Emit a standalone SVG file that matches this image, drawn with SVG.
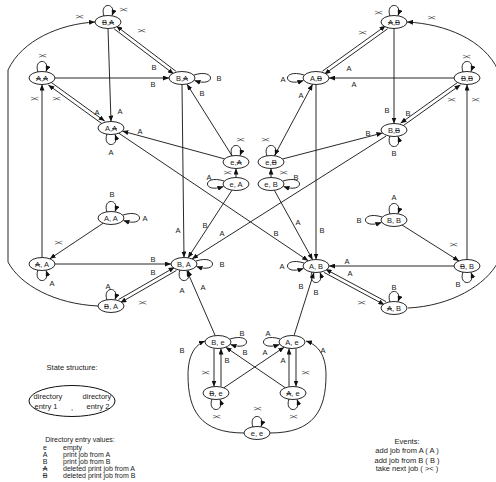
<svg xmlns="http://www.w3.org/2000/svg" width="496" height="482" viewBox="0 0 496 482">
  <style>
    text { font-family: "Liberation Sans", Arial, sans-serif; fill: #1a1a1a; }
    .st ellipse { fill: #fff; stroke: #111; stroke-width: 0.9; }
    .st text { font-size: 7.5px; text-anchor: middle; }
    .d { text-decoration: line-through; }
    .e { fill: none; stroke: #111; stroke-width: 0.9; marker-end: url(#arr); }
    .lb { font-size: 7.5px; text-anchor: middle; }
    .tk { font-size: 8px; text-anchor: middle; letter-spacing: -1.2px; fill: #333; }
    .leg { font-size: 7px; }
    .ev { font-size: 7.5px; }
    .big { font-size: 7.5px; }
    .mid { text-anchor: middle; }
  </style>
  <defs>
    <marker id="arr" markerWidth="6" markerHeight="5" refX="6" refY="2.5" orient="auto" markerUnits="userSpaceOnUse">
      <path d="M0,0 L6,2.5 L0,5 z" fill="#111"/>
    </marker>
  </defs>
  <rect width="496" height="482" fill="#fff"/>

  <g id="connectors">
    <!-- outer arcs -->
    <path class="e" d="M 98 306 C 55 304, 20 285, 8 262 L 8 70 C 22 40, 60 24, 95 22"/>
    <path class="e" d="M 408 308 C 451 306, 486 285, 498 262 L 498 70 C 484 40, 446 24, 407 22"/>
    <text class="tk" x="79" y="19">&gt;&lt;</text>
    <text class="tk" x="431" y="20">&gt;&lt;</text>

    <!-- upper left group -->
    <path class="e" d="M 175.9 71.2 L 116.3 26.0"/>
    <path class="e" d="M 114.1 28.8 L 173.7 74.0"/>
    <text class="tk" x="141" y="33">&gt;&lt;</text>
    <text class="lb" x="154" y="70">B</text>
    <path class="e" d="M 108 28.5 L 111 121.5"/>
    <text class="lb" x="120" y="114">A</text>
    <path class="e" d="M 55 78 L 169 78"/>
    <text class="lb" x="153" y="87">B</text>
    <path class="e" d="M 50.5 81.9 L 104.7 121.1"/>
    <path class="e" d="M 102.5 124.1 L 48.3 84.9"/>
    <text class="tk" x="56" y="101">&gt;&lt;</text>
    <text class="lb" x="97" y="115">A</text>
    <path class="e" d="M 224.6 158.9 L 122.4 131.1"/>
    <text class="lb" x="140" y="134">A</text>
    <path class="e" d="M 232 155.8 L 187 84.2"/>
    <text class="lb" x="202" y="96">B</text>
    <path class="e" d="M 236 177.5 L 236 168.5"/>
    <text class="tk" x="227" y="175">&gt;&lt;</text>
    <path class="e" d="M 232 190.2 L 188 257.8"/>
    <text class="lb" x="205" y="228">B</text>
    <path class="e" d="M 182 84.5 L 184 257.5"/>
    <text class="lb" x="178" y="233">A</text>
    <path class="e" d="M 118.8 133.2 L 308.2 260.8"/>
    <text class="lb" x="276" y="236">B</text>
    <path class="e" d="M 386 136.1 L 192 258.9"/>
    <text class="lb" x="222" y="236">A</text>

    <!-- upper right group -->
    <path class="e" d="M 322.4 71.2 L 385.6 25.8"/>
    <path class="e" d="M 387.6 28.8 L 324.4 74.2"/>
    <text class="tk" x="362" y="35">&gt;&lt;</text>
    <text class="lb" x="349" y="71">A</text>
    <path class="e" d="M 394 28.5 L 394 123.5"/>
    <text class="lb" x="387" y="113">B</text>
    <path class="e" d="M 454 78 L 329 78"/>
    <text class="lb" x="354" y="87">A</text>
    <path class="e" d="M 458.5 81.8 L 400.5 123.2"/>
    <path class="e" d="M 402.5 126.2 L 460.5 84.8"/>
    <text class="lb" x="408" y="116">B</text>
    <text class="tk" x="451" y="102">&gt;&lt;</text>
    <path class="e" d="M 274.4 155.7 L 312.6 84.3"/>
    <text class="lb" x="301" y="98">A</text>
    <path class="e" d="M 282.5 159 L 382.5 133"/>
    <text class="lb" x="368" y="136">B</text>
    <path class="e" d="M 271 177.5 L 271 168.5"/>
    <text class="tk" x="283" y="175">&gt;&lt;</text>
    <path class="e" d="M 274.4 190.3 L 312.6 259.7"/>
    <text class="lb" x="298" y="225">A</text>
    <path class="e" d="M 316 84.5 L 316 259.5"/>
    <text class="lb" x="322" y="233">B</text>

    <!-- lower left group -->
    <path class="e" d="M 103.2 223.2 L 49.8 258.8"/>
    <text class="tk" x="58" y="245">&gt;&lt;</text>
    <path class="e" d="M 42 257.5 L 42 84.5"/>
    <text class="tk" x="34" y="101">&gt;&lt;</text>
    <path class="e" d="M 55 264 L 171 264"/>
    <text class="lb" x="153" y="262">B</text>
    <path class="e" d="M 118.6 299.5 L 174.6 267.3"/>
    <path class="e" d="M 176.4 270.5 L 120.4 302.7"/>
    <text class="lb" x="153" y="275">B</text>
    <text class="tk" x="142" y="305">&gt;&lt;</text>

    <!-- lower right group -->
    <path class="e" d="M 402 225 L 459 261"/>
    <text class="tk" x="453" y="247">&gt;&lt;</text>
    <path class="e" d="M 467 259.5 L 467 84.5"/>
    <text class="tk" x="475" y="102">&gt;&lt;</text>
    <path class="e" d="M 454 266 L 329 266"/>
    <text class="lb" x="347" y="264">A</text>
    <path class="e" d="M 386 301.6 L 325.6 269.2"/>
    <path class="e" d="M 324 272.4 L 384.4 304.8"/>
    <text class="lb" x="350" y="276">A</text>
    <text class="tk" x="361" y="305">&gt;&lt;</text>

    <!-- bottom group -->
    <path class="e" d="M 215.2 335.6 L 186.8 270.4"/>
    <text class="lb" x="203" y="290">A</text>
    <path class="e" d="M 294 335.6 L 314 272.4"/>
    <text class="lb" x="301" y="289">B</text>
    <path class="e" d="M 214 348.5 L 214 386.5"/>
    <text class="tk" x="205" y="375">&gt;&lt;</text>
    <path class="e" d="M 221 386.5 L 221 348.5"/>
    <text class="lb" x="227" y="363">B</text>
    <path class="e" d="M 296 348.5 L 296 386.5"/>
    <text class="tk" x="305" y="375">&gt;&lt;</text>
    <path class="e" d="M 289 386.5 L 289 348.5"/>
    <text class="lb" x="283" y="363">A</text>
    <path class="e" d="M 223.8 387.8 L 284.2 347.2"/>
    <text class="lb" x="265" y="355">A</text>
    <path class="e" d="M 285.3 387.8 L 225.7 347.2"/>
    <text class="lb" x="245" y="355">B</text>
    <path class="e" d="M 244 433 C 200 433, 188 410, 188 375 C 188 355, 195 345, 205 341"/>
    <text class="lb" x="182" y="353">B</text>
    <path class="e" d="M 270 433 C 314 433, 326 410, 326 375 C 326 355, 318 345, 306 341"/>
    <text class="lb" x="323" y="353">A</text>

    <!-- self loops -->
    <path class="e" d="M 104 16 C 99 2, 117 2, 112 15.6"/>
    <text class="tk" x="123" y="12">&gt;&lt;</text>
    <path class="e" d="M 38 72 C 33 58, 51 58, 46 71.6"/>
    <text class="tk" x="42" y="58">&gt;&lt;</text>
    <path class="e" d="M 194 75 C 216 68, 216 88, 194.5 80.5"/>
    <text class="lb" x="219" y="81">B</text>
    <path class="e" d="M 107 134 C 102 148, 120 148, 115 134.4"/>
    <text class="lb" x="111" y="155">A</text>
    <path class="e" d="M 232 156 C 227 142, 245 142, 240 155.6"/>
    <text class="tk" x="240" y="142">&gt;&lt;</text>
    <path class="e" d="M 224 181 C 202 174, 202 194, 223.5 186.5"/>
    <text class="lb" x="209" y="180">A</text>
    <path class="e" d="M 107 212 C 102 198, 120 198, 115 211.6"/>
    <text class="lb" x="112" y="197">B</text>
    <path class="e" d="M 123 215 C 145 208, 145 228, 123.5 220.5"/>
    <text class="lb" x="145" y="221">A</text>
    <path class="e" d="M 38 270 C 33 284, 51 284, 46 270.4"/>
    <text class="lb" x="52" y="286">A</text>
    <path class="e" d="M 196 261 C 218 254, 218 274, 196.5 266.5"/>
    <text class="lb" x="222" y="267">B</text>
    <path class="e" d="M 180 270 C 175 284, 193 284, 188 270.4"/>
    <text class="lb" x="182" y="293">A</text>
    <path class="e" d="M 107 300 C 102 286, 120 286, 115 299.6"/>
    <text class="lb" x="108" y="289">A</text>
    <path class="e" d="M 390 16 C 385 2, 403 2, 398 15.6"/>
    <text class="tk" x="378" y="15">&gt;&lt;</text>
    <path class="e" d="M 304 75 C 282 68, 282 88, 303.5 80.5"/>
    <text class="lb" x="283" y="82">A</text>
    <path class="e" d="M 463 72 C 458 58, 476 58, 471 71.6"/>
    <text class="tk" x="466" y="59">&gt;&lt;</text>
    <path class="e" d="M 390 136 C 385 150, 403 150, 398 136.4"/>
    <text class="lb" x="394" y="156">B</text>
    <path class="e" d="M 267 156 C 262 142, 280 142, 275 155.6"/>
    <text class="tk" x="265" y="142">&gt;&lt;</text>
    <path class="e" d="M 283 181 C 305 174, 305 194, 283.5 186.5"/>
    <text class="lb" x="296" y="180">B</text>
    <path class="e" d="M 390 214 C 385 200, 403 200, 398 213.6"/>
    <text class="lb" x="394" y="200">A</text>
    <path class="e" d="M 382 217 C 360 210, 360 230, 381.5 222.5"/>
    <text class="lb" x="359" y="223">B</text>
    <path class="e" d="M 463 272 C 458 286, 476 286, 471 272.4"/>
    <text class="lb" x="458" y="287">B</text>
    <path class="e" d="M 304 263 C 282 256, 282 276, 303.5 268.5"/>
    <text class="lb" x="282" y="269">A</text>
    <path class="e" d="M 312 272 C 307 286, 325 286, 320 272.4"/>
    <text class="lb" x="316" y="295">B</text>
    <path class="e" d="M 390 302 C 385 288, 403 288, 398 301.6"/>
    <text class="lb" x="394" y="290">B</text>
    <path class="e" d="M 230 339 C 252 332, 252 352, 230.5 344.5"/>
    <text class="lb" x="242" y="336">B</text>
    <path class="e" d="M 280 339 C 258 332, 258 352, 279.5 344.5"/>
    <text class="lb" x="268" y="336">A</text>
    <path class="e" d="M 212 399 C 207 413, 225 413, 220 399.4"/>
    <text class="tk" x="216" y="419">&gt;&lt;</text>
    <path class="e" d="M 289 399 C 284 413, 302 413, 297 399.4"/>
    <text class="tk" x="293" y="419">&gt;&lt;</text>
    <path class="e" d="M 253 427 C 248 413, 266 413, 261 426.6"/>
    <text class="tk" x="257" y="411">&gt;&lt;</text>
  </g>

  <!-- states: left half -->
  <g id="s-BxAx" class="st"><ellipse cx="108" cy="22" rx="13" ry="6.5"/><text x="108" y="24.7"><tspan class="d">B</tspan>,<tspan class="d">A</tspan></text></g>
  <g id="s-AxAx" class="st"><ellipse cx="42" cy="78" rx="13" ry="6.5"/><text x="42" y="80.7"><tspan class="d">A</tspan>,<tspan class="d">A</tspan></text></g>
  <g id="s-BAx" class="st"><ellipse cx="182" cy="78" rx="13" ry="6.5"/><text x="182" y="80.7">B,<tspan class="d">A</tspan></text></g>
  <g id="s-AAx" class="st"><ellipse cx="111" cy="128" rx="13" ry="6.5"/><text x="111" y="130.7">A,<tspan class="d">A</tspan></text></g>
  <g id="s-eAx" class="st"><ellipse cx="236" cy="162" rx="13" ry="6.5"/><text x="236" y="164.7">e,<tspan class="d">A</tspan></text></g>
  <g id="s-eA" class="st"><ellipse cx="236" cy="184" rx="13" ry="6.5"/><text x="236" y="186.7">e, A</text></g>
  <g id="s-AA" class="st"><ellipse cx="111" cy="218" rx="13" ry="6.5"/><text x="111" y="220.7">A, A</text></g>
  <g id="s-AxA" class="st"><ellipse cx="42" cy="264" rx="13" ry="6.5"/><text x="42" y="266.7"><tspan class="d">A</tspan>, A</text></g>
  <g id="s-BA" class="st"><ellipse cx="184" cy="264" rx="13" ry="6.5"/><text x="184" y="266.7">B, A</text></g>
  <g id="s-BxA" class="st"><ellipse cx="111" cy="306" rx="13" ry="6.5"/><text x="111" y="308.7"><tspan class="d">B</tspan>, A</text></g>

  <!-- states: right half -->
  <g id="s-AxBx" class="st"><ellipse cx="394" cy="22" rx="13" ry="6.5"/><text x="394" y="24.7"><tspan class="d">A</tspan>,<tspan class="d">B</tspan></text></g>
  <g id="s-ABx" class="st"><ellipse cx="316" cy="78" rx="13" ry="6.5"/><text x="316" y="80.7">A,<tspan class="d">B</tspan></text></g>
  <g id="s-BxBx" class="st"><ellipse cx="467" cy="78" rx="13" ry="6.5"/><text x="467" y="80.7"><tspan class="d">B</tspan>,<tspan class="d">B</tspan></text></g>
  <g id="s-BBx" class="st"><ellipse cx="394" cy="130" rx="13" ry="6.5"/><text x="394" y="132.7">B,<tspan class="d">B</tspan></text></g>
  <g id="s-eBx" class="st"><ellipse cx="271" cy="162" rx="13" ry="6.5"/><text x="271" y="164.7">e,<tspan class="d">B</tspan></text></g>
  <g id="s-eB" class="st"><ellipse cx="271" cy="184" rx="13" ry="6.5"/><text x="271" y="186.7">e, B</text></g>
  <g id="s-BB" class="st"><ellipse cx="394" cy="220" rx="13" ry="6.5"/><text x="394" y="222.7">B, B</text></g>
  <g id="s-AB" class="st"><ellipse cx="316" cy="266" rx="13" ry="6.5"/><text x="316" y="268.7">A, B</text></g>
  <g id="s-BxB" class="st"><ellipse cx="467" cy="266" rx="13" ry="6.5"/><text x="467" y="268.7"><tspan class="d">B</tspan>, B</text></g>
  <g id="s-AxB" class="st"><ellipse cx="394" cy="308" rx="13" ry="6.5"/><text x="394" y="310.7"><tspan class="d">A</tspan>, B</text></g>

  <!-- states: bottom -->
  <g id="s-Be" class="st"><ellipse cx="218" cy="342" rx="13" ry="6.5"/><text x="218" y="344.7">B, e</text></g>
  <g id="s-Ae" class="st"><ellipse cx="292" cy="342" rx="13" ry="6.5"/><text x="292" y="344.7">A, e</text></g>
  <g id="s-Bxe" class="st"><ellipse cx="216" cy="393" rx="13" ry="6.5"/><text x="216" y="395.7"><tspan class="d">B</tspan>, e</text></g>
  <g id="s-Axe" class="st"><ellipse cx="293" cy="393" rx="13" ry="6.5"/><text x="293" y="395.7"><tspan class="d">A</tspan>, e</text></g>
  <g id="s-ee" class="st"><ellipse cx="257" cy="433" rx="13" ry="6.5"/><text x="257" y="435.7">e, e</text></g>

  <!-- key: state structure -->
  <g id="key-structure">
    <text class="big mid" x="72" y="370">State structure:</text>
    <ellipse cx="72" cy="401" rx="43" ry="15.5" fill="none" stroke="#111" stroke-width="1"/>
    <text class="big mid" x="48" y="399">directory</text>
    <text class="big mid" x="97" y="399">directory</text>
    <text class="big mid" x="46" y="409">entry 1</text>
    <text class="big mid" x="72" y="410">,</text>
    <text class="big mid" x="98" y="409">entry 2</text>
  </g>

  <!-- key: directory entry values -->
  <g id="key-values">
    <text class="leg mid" x="80" y="442">Directory entry values:</text>
    <text class="leg mid" x="45" y="450">e</text>
    <text class="leg" x="63" y="450">empty</text>
    <text class="leg mid" x="45" y="457">A</text>
    <text class="leg" x="63" y="457">print job from A</text>
    <text class="leg mid" x="45" y="464">B</text>
    <text class="leg" x="63" y="464">print job from B</text>
    <text class="leg mid" x="45" y="470.5"><tspan class="d">A</tspan></text>
    <text class="leg" x="63" y="470.5">deleted print job from A</text>
    <text class="leg mid" x="45" y="477.5"><tspan class="d">B</tspan></text>
    <text class="leg" x="63" y="477.5">deleted print job from B</text>
  </g>

  <!-- key: events -->
  <g id="key-events">
    <text class="ev mid" x="407" y="444">Events:</text>
    <text class="ev mid" x="407" y="453">add job from A ( A )</text>
    <text class="ev mid" x="407" y="463">add job from B ( B )</text>
    <text class="ev mid" x="407" y="471">take next job ( &gt;&lt; )</text>
  </g>
</svg>
